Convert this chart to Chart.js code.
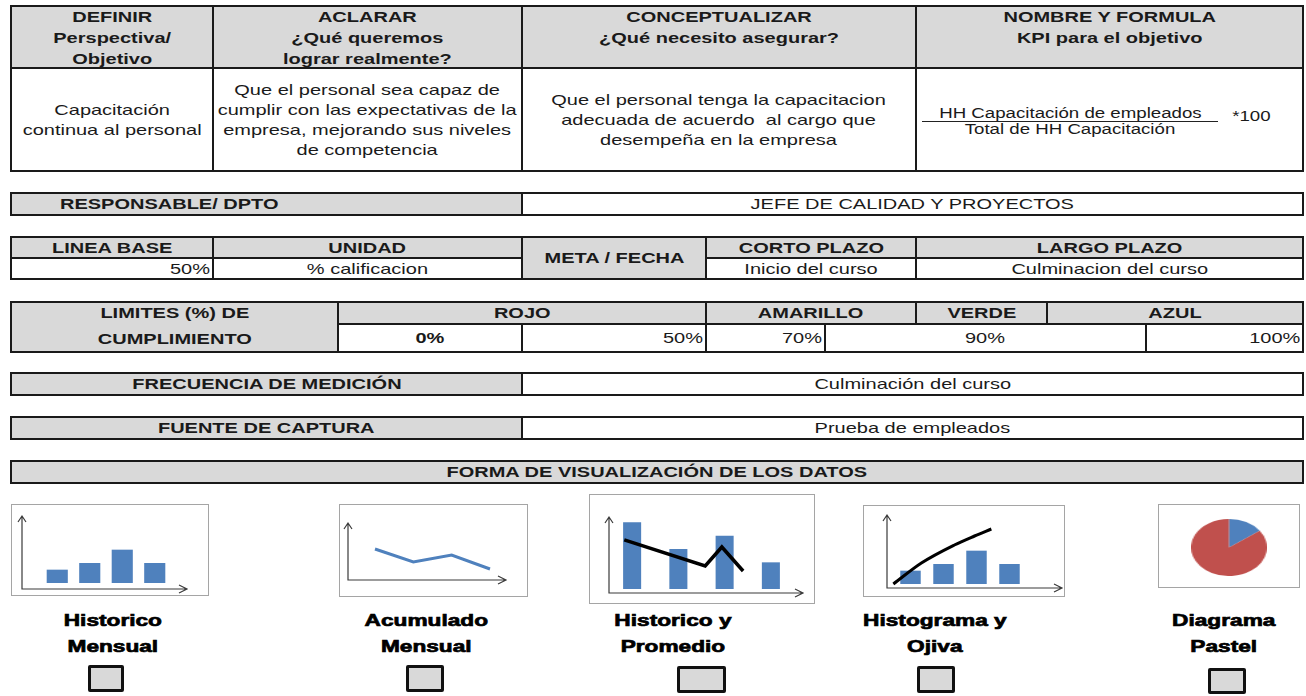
<!DOCTYPE html>
<html>
<head>
<meta charset="utf-8">
<script src="https://cdn.jsdelivr.net/npm/chart.js@4.4.0/dist/chart.umd.min.js"></script>
<style>
html, body { margin: 0; padding: 0; background: #fff; }
#page { position: relative; width: 1306px; height: 696px; overflow: hidden; font-family: "Liberation Sans", Arial, sans-serif; color: #1a1a1a; }
.c { position: absolute; box-sizing: border-box; border: 2px solid #1a1a1a; display: flex; align-items: center; justify-content: center; text-align: center; white-space: nowrap; font-size: 15px; line-height: 20px; background: #fff; }
.g { background: #d9d9d9; font-weight: bold; }
.hd { align-items: flex-start; line-height: 21px; padding-top: 0; }
.hd .t { margin-top: -1px; }
.t { display: inline-block; transform: scaleX(1.333); transform-origin: center; }
.r { justify-content: flex-end; padding-right: 2px; }
.r .t { transform-origin: right center; }
.l { justify-content: flex-start; padding-left: 48px; }
.l .t { transform-origin: left center; }
.thumb { position: absolute; box-sizing: border-box; border: 1px solid #a5a5a5; background: #fff; }
.cv { position: absolute; left: 0; top: 0; }
.lab { position: absolute; width: 240px; text-align: center; font-weight: bold; font-size: 17px; line-height: 26px; color: #000; -webkit-text-stroke: 0.7px #000; }
.chk { position: absolute; box-sizing: border-box; border: 3px solid #111; background: #d9d9d9; border-radius: 2px; }
.fx { position: absolute; font-size: 14px; line-height: 16px; text-align: center; white-space: nowrap; }
</style>
</head>
<body>
<div id="page"></div>
<script>
// datos de las miniaturas
const periodos = ['1', '2', '3', '4'];
const historicoMensual = [2, 3, 5, 3];
const acumuladoMensual = [6.2, 3.6, 5.0, 2.2];
const historicoBarras = [5, 3, 4, 2];
const promedioX = [-0.17, 1.58, 1.94, 2.40];
const promedioY = [3.68, 1.73, 3.15, 1.35];
const histogramaBarras = [2, 3, 5, 3];
const ojivaX = [-0.52, 0.33, 1.33, 1.94, 2.45];
const ojivaY = [0, 3.15, 5.85, 7.2, 8.25];
const pastel = [15, 85];

const azul = '#4f81bd';
const rojo = '#c0504d';

const page = document.getElementById('page');

function el(cls, style, html) {
    const d = document.createElement('div');
    d.className = cls;
    Object.assign(d.style, style);
    if (html !== undefined) d.innerHTML = html;
    page.appendChild(d);
    return d;
}

function cell(x1, y1, x2, y2, html, cls) {
    return el('c ' + (cls || ''), {
        left: x1 + 'px', top: y1 + 'px',
        width: (x2 - x1 + 2) + 'px', height: (y2 - y1 + 2) + 'px'
    }, html ? '<span class="t">' + html + '</span>' : '');
}

// tabla superior
cell(10, 5, 212, 67, 'DEFINIR<br>Perspectiva/<br>Objetivo', 'g hd');
cell(212, 5, 521, 67, 'ACLARAR<br>¿Qué queremos<br>lograr realmente?', 'g hd');
cell(521, 5, 915, 67, 'CONCEPTUALIZAR<br>¿Qué necesito asegurar?', 'g hd');
cell(915, 5, 1302, 67, 'NOMBRE Y FORMULA<br>KPI para el objetivo', 'g hd');
cell(10, 67, 212, 170, 'Capacitación<br>continua al personal');
cell(212, 67, 521, 170, 'Que el personal sea capaz de<br>cumplir con las expectativas de la<br>empresa, mejorando sus niveles<br>de competencia');
cell(521, 67, 915, 170, 'Que el personal tenga la capacitacion<br>adecuada de acuerdo&nbsp; al cargo que<br>desempeña en la empresa');
cell(915, 67, 1302, 170, '');
el('fx', { left: '922px', top: '105px', width: '296px' }, '<span class="t">HH Capacitación de empleados</span>');
el('fx', { left: '922px', top: '121px', width: '296px', height: '0', borderTop: '1px solid #222' });
el('fx', { left: '922px', top: '121px', width: '296px' }, '<span class="t">Total de HH Capacitación</span>');
el('fx', { left: '1226px', top: '108px', width: '50px' }, '<span class="t">*100</span>');

// responsable
cell(10, 192, 521, 214, 'RESPONSABLE/ DPTO', 'g l');
cell(521, 192, 1302, 214, 'JEFE DE CALIDAD Y PROYECTOS');

// linea base / meta
cell(10, 236, 212, 257, 'LINEA BASE', 'g');
cell(212, 236, 521, 257, 'UNIDAD', 'g');
cell(521, 236, 705, 278, 'META / FECHA', 'g');
cell(705, 236, 915, 257, 'CORTO PLAZO', 'g');
cell(915, 236, 1302, 257, 'LARGO PLAZO', 'g');
cell(10, 257, 212, 278, '50%', 'r');
cell(212, 257, 521, 278, '% calificacion');
cell(705, 257, 915, 278, 'Inicio del curso');
cell(915, 257, 1302, 278, 'Culminacion del curso');

// limites de cumplimiento
const lim = cell(10, 301, 337, 351, '', 'g');
lim.style.flexDirection = 'column';
lim.innerHTML = '<div style="height:22px;line-height:20px"><span class="t">LIMITES (%) DE</span></div>' +
    '<div style="height:26px;line-height:28px"><span class="t">CUMPLIMIENTO</span></div>';
cell(337, 301, 705, 323, 'ROJO', 'g');
cell(705, 301, 915, 323, 'AMARILLO', 'g');
cell(915, 301, 1046, 323, 'VERDE', 'g');
cell(1046, 301, 1302, 323, 'AZUL', 'g');
cell(337, 323, 521, 351, '<b>0%</b>');
cell(521, 323, 705, 351, '50%', 'r');
cell(705, 323, 824, 351, '70%', 'r');
cell(824, 323, 1145, 351, '90%');
cell(1145, 323, 1302, 351, '100%', 'r');

// frecuencia, fuente, forma
cell(10, 372, 521, 394, 'FRECUENCIA DE MEDICIÓN', 'g');
cell(521, 372, 1302, 394, 'Culminación del curso');
cell(10, 416, 521, 438, 'FUENTE DE CAPTURA', 'g');
cell(521, 416, 1302, 438, 'Prueba de empleados');
cell(10, 460, 1302, 482, 'FORMA DE VISUALIZACIÓN DE LOS DATOS', 'g');

// miniaturas
Chart.defaults.animation = false;
Chart.defaults.events = [];

const axisArrows = {
    id: 'axisArrows',
    beforeDatasetsDraw(chart, args, o) {
        const c = chart.ctx;
        c.save();
        c.strokeStyle = '#3a3a3a';
        c.lineWidth = 1.2;
        c.beginPath();
        c.moveTo(o.x, o.top); c.lineTo(o.x, o.y); c.lineTo(o.right, o.y);
        c.moveTo(o.x - 4, o.top + 6); c.lineTo(o.x, o.top); c.lineTo(o.x + 4, o.top + 6);
        c.moveTo(o.right - 8, o.y - 4); c.lineTo(o.right, o.y); c.lineTo(o.right - 8, o.y + 4);
        c.stroke();
        c.restore();
    }
};

function thumb(x, y, w, h) {
    const box = el('thumb', { left: x + 'px', top: y + 'px', width: w + 'px', height: h + 'px' });
    const wrap = document.createElement('div');
    wrap.className = 'cv';
    wrap.style.width = (w - 2) + 'px';
    wrap.style.height = (h - 2) + 'px';
    const cv = document.createElement('canvas');
    wrap.appendChild(cv);
    box.appendChild(wrap);
    return cv;
}

function baseOptions(pad, arrows, xScale, yScale) {
    return {
        responsive: true,
        maintainAspectRatio: false,
        layout: { padding: pad },
        scales: { x: Object.assign({ display: false }, xScale), y: Object.assign({ display: false }, yScale) },
        plugins: { legend: { display: false }, tooltip: { enabled: false }, axisArrows: arrows }
    };
}

// Historico Mensual
new Chart(thumb(11, 504, 198, 92), {
    type: 'bar',
    data: { labels: periodos, datasets: [{ data: historicoMensual, backgroundColor: azul, categoryPercentage: 1, barPercentage: 0.65 }] },
    options: baseOptions({ left: 29, right: 37, top: 38, bottom: 12 }, { x: 10, y: 84, top: 11, right: 175 },
        {}, { min: 0, max: 6 }),
    plugins: [axisArrows]
});

// Acumulado Mensual
new Chart(thumb(339, 504, 189, 93), {
    type: 'line',
    data: { labels: periodos, datasets: [{ data: acumuladoMensual, borderColor: azul, borderWidth: 3, pointRadius: 0, tension: 0 }] },
    options: baseOptions({ left: 35, right: 37, top: 35, bottom: 16 }, { x: 8, y: 75, top: 18, right: 166 },
        {}, { min: 0, max: 8 }),
    plugins: [axisArrows]
});

// Historico y Promedio
new Chart(thumb(589, 494, 226, 110), {
    type: 'bar',
    data: {
        datasets: [
            { type: 'line', data: promedioX.map((v, i) => ({ x: v, y: promedioY[i] })), borderColor: '#000', borderWidth: 3.5, pointRadius: 0, tension: 0, clip: false },
            { data: historicoBarras.map((v, i) => ({ x: i, y: v })), backgroundColor: azul, categoryPercentage: 1, barPercentage: 0.39 }
        ]
    },
    options: baseOptions({ left: 19, right: 20, top: 14, bottom: 14 }, { x: 19, y: 98, top: 22, right: 213 },
        { type: 'linear', offset: false, min: -0.5, max: 3.5 }, { min: 0, max: 6 }),
    plugins: [axisArrows]
});

// Histograma y Ojiva
new Chart(thumb(863, 505, 202, 92), {
    type: 'bar',
    data: {
        datasets: [
            { type: 'line', data: ojivaX.map((v, i) => ({ x: v, y: ojivaY[i] })), borderColor: '#000', borderWidth: 3, pointRadius: 0, cubicInterpolationMode: 'monotone', clip: false },
            { data: histogramaBarras.map((v, i) => ({ x: i, y: v })), backgroundColor: azul, categoryPercentage: 1, barPercentage: 0.62 }
        ]
    },
    options: baseOptions({ left: 30, right: 38, top: 18, bottom: 12 }, { x: 23, y: 82, top: 9, right: 198 },
        { type: 'linear', offset: false, min: -0.5, max: 3.5 }, { min: 0, max: 9 }),
    plugins: [axisArrows]
});

// Diagrama Pastel (caja + elipse)
el('thumb', { left: '1158px', top: '504px', width: '142px', height: '84px' });
const pieWrap = el('', { position: 'absolute', left: '1191px', top: '519px', width: '57px', height: '57px', transform: 'scaleX(1.333)', transformOrigin: 'left top' });
const pieCv = document.createElement('canvas');
pieWrap.appendChild(pieCv);
new Chart(pieCv, {
    type: 'pie',
    data: { labels: ['A', 'B'], datasets: [{ data: pastel, backgroundColor: [azul, rojo], borderWidth: 0 }] },
    options: { responsive: true, maintainAspectRatio: false, plugins: { legend: { display: false }, tooltip: { enabled: false } } }
});

// etiquetas y casillas
const etiquetas = [
    ['Historico', 'Mensual', 113],
    ['Acumulado', 'Mensual', 426],
    ['Historico y', 'Promedio', 673],
    ['Histograma y', 'Ojiva', 935],
    ['Diagrama', 'Pastel', 1224]
];
etiquetas.forEach(e => {
    el('lab', { left: (e[2] - 120) + 'px', top: '608px' }, '<span class="t">' + e[0] + '<br>' + e[1] + '</span>');
});
const casillas = [[88, 665, 36, 27], [406, 665, 38, 27], [677, 666, 49, 27], [917, 666, 38, 27], [1208, 668, 38, 26]];
casillas.forEach(b => {
    el('chk', { left: b[0] + 'px', top: b[1] + 'px', width: b[2] + 'px', height: b[3] + 'px' });
});
</script>
</body>
</html>
